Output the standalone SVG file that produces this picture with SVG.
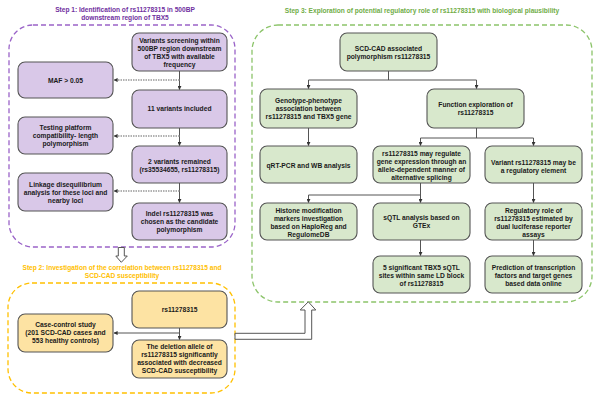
<svg xmlns="http://www.w3.org/2000/svg" width="600" height="401" viewBox="0 0 600 401">
<style>
text{font-family:"Liberation Sans",Arial,sans-serif;font-weight:bold;text-anchor:middle;dominant-baseline:central}
.t{font-size:6.7px;fill:#1a1a1a}
.h{font-size:6.6px}
.hp{fill:#7030a0}.ho{fill:#ffc000}.hg{fill:#70ad47}
.bp{fill:#d9c8e8;stroke:#555;stroke-width:1.1}
.bo{fill:#fde3a3;stroke:#555;stroke-width:1.1}
.bg{fill:#d8e8cc;stroke:#555;stroke-width:1.1}
.c{fill:none;stroke:#555;stroke-width:1}
.d{fill:none;stroke:#999;stroke-width:1.4;stroke-dasharray:1.5,1}
.hol{fill:#fff;stroke:#555;stroke-width:1}
</style>
<defs>
<marker id="ar" viewBox="0 0 10 10" refX="9" refY="5" markerWidth="4" markerHeight="4" orient="auto" markerUnits="userSpaceOnUse"><path d="M0,0L10,5L0,10z" fill="#333"/></marker>
</defs>
<rect width="600" height="401" fill="#fff"/>

<!-- titles -->
<text class="h hp" x="125" y="9.5">Step 1: Identification of rs11278315 in 500BP</text>
<text class="h hp" x="125" y="17.5">downstream region of TBX5</text>
<text class="h ho" x="122" y="267">Step 2: Investigation of the correlation between rs11278315 and</text>
<text class="h ho" x="122" y="275.5">SCD-CAD susceptibility</text>
<text class="h hg" x="422" y="10">Step 3: Exploration of potential regulatory role of rs11278315 with biological plausibility</text>

<!-- containers -->
<rect x="9" y="25" width="226" height="222" rx="24" fill="none" stroke="#9a63c8" stroke-width="1.3" stroke-dasharray="5,3"/>
<rect x="8" y="283" width="227" height="110" rx="24" fill="none" stroke="#ffc000" stroke-width="1.3" stroke-dasharray="5,3"/>
<rect x="252" y="25" width="340" height="277" rx="26" fill="none" stroke="#8cc46a" stroke-width="1.3" stroke-dasharray="5,3"/>

<g id="connectors">
<path class="c" d="M179.5,71V89.5" marker-end="url(#ar)"/>
<path class="c" d="M179.5,128V145.5" marker-end="url(#ar)"/>
<path class="c" d="M179.5,183V202.5" marker-end="url(#ar)"/>
<path class="d" d="M179.5,80H114" marker-end="url(#ar)"/>
<path class="d" d="M179.5,136H114" marker-end="url(#ar)"/>
<path class="d" d="M179.5,191H114" marker-end="url(#ar)"/>
<path class="c" d="M179.5,328V339.5" marker-end="url(#ar)"/>
<path class="c" d="M179.5,333H114" marker-end="url(#ar)"/>
<path class="c" d="M388.5,71V80M308.5,80H476.5"/>
<path class="c" d="M308.5,80V88.5" marker-end="url(#ar)"/>
<path class="c" d="M476.5,80V88.5" marker-end="url(#ar)"/>
<path class="c" d="M308.5,128V145.5" marker-end="url(#ar)"/>
<path class="c" d="M476.5,128V138M420.5,138H533.5"/>
<path class="c" d="M420.5,138V145.5" marker-end="url(#ar)"/>
<path class="c" d="M533.5,138V145.5" marker-end="url(#ar)"/>
<path class="c" d="M420.5,183V195M308.5,195H420.5"/>
<path class="c" d="M308.5,195V202.5" marker-end="url(#ar)"/>
<path class="c" d="M420.5,195V202.5" marker-end="url(#ar)"/>
<path class="c" d="M533.5,183V202.5" marker-end="url(#ar)"/>
<path class="c" d="M420.5,240V255.5" marker-end="url(#ar)"/>
<path class="c" d="M533.5,240V255.5" marker-end="url(#ar)"/>
<path class="hol" d="M118.3,247.5H124.3V256H127.3L121.3,262.3L115.8,256H118.3Z"/>
<path class="hol" d="M235,333.3H305V310H300.2L308.3,301.8L315.8,310H311.7V339.3H235Z"/>
</g>

<g id="n1"><rect class="bp" x="132" y="33" width="95" height="38" rx="7"/>
<text class="t" x="179.5" y="40">Variants screening within</text><text class="t" x="179.5" y="48">500BP region downstream</text><text class="t" x="179.5" y="56">of TBX5 with available</text><text class="t" x="179.5" y="64">frequency</text></g>
<g id="n2"><rect class="bp" x="18" y="62" width="95" height="36" rx="7"/>
<text class="t" x="65.5" y="80">MAF &gt; 0.05</text></g>
<g id="n3"><rect class="bp" x="132" y="90" width="95" height="38" rx="7"/>
<text class="t" x="179.5" y="108.5">11 variants included</text></g>
<g id="n4"><rect class="bp" x="18" y="117" width="95" height="37" rx="7"/>
<text class="t" x="65.5" y="127.5">Testing platform</text><text class="t" x="65.5" y="135.5">compatibility- length</text><text class="t" x="65.5" y="143.5">polymorphism</text></g>
<g id="n5"><rect class="bp" x="132" y="146" width="95" height="37" rx="7"/>
<text class="t" x="179.5" y="161.5">2 variants remained</text><text class="t" x="179.5" y="169.5">(rs35534655, rs11278315)</text></g>
<g id="n6"><rect class="bp" x="18" y="173" width="95" height="38" rx="7"/>
<text class="t" x="65.5" y="184">Linkage disequilibrium</text><text class="t" x="65.5" y="192">analysis for these loci and</text><text class="t" x="65.5" y="200">nearby loci</text></g>
<g id="n7"><rect class="bp" x="132" y="203" width="95" height="37" rx="7"/>
<text class="t" x="179.5" y="213.5">Indel rs11278315 was</text><text class="t" x="179.5" y="221.5">chosen as the candidate</text><text class="t" x="179.5" y="229.5">polymorphism</text></g>

<g id="n8"><rect class="bo" x="132" y="291" width="95" height="37" rx="7"/>
<text class="t" x="179.5" y="309.5">rs11278315</text></g>
<g id="n9"><rect class="bo" x="18" y="314" width="95" height="38" rx="7"/>
<text class="t" x="65.5" y="324.5">Case-control study</text><text class="t" x="65.5" y="332.5">(201 SCD-CAD cases and</text><text class="t" x="65.5" y="340.5">553 healthy controls)</text></g>
<g id="n10"><rect class="bo" x="132" y="340" width="95" height="38" rx="7"/>
<text class="t" x="179.5" y="346.5">The deletion allele of</text><text class="t" x="179.5" y="354.5">rs11278315 significantly</text><text class="t" x="179.5" y="362">associated with decreased</text><text class="t" x="179.5" y="370">SCD-CAD susceptibility</text></g>

<g id="n11"><rect class="bg" x="340" y="33" width="97" height="38" rx="7"/>
<text class="t" x="388.5" y="48">SCD-CAD associated</text><text class="t" x="388.5" y="56">polymorphism rs11278315</text></g>
<g id="n12"><rect class="bg" x="260" y="89" width="97" height="39" rx="7"/>
<text class="t" x="308.5" y="100.5">Genotype-phenotype</text><text class="t" x="308.5" y="108.5">association between</text><text class="t" x="308.5" y="116.5">rs11278315 and TBX5 gene</text></g>
<g id="n13"><rect class="bg" x="427" y="89" width="97" height="39" rx="7"/>
<text class="t" x="475.5" y="104.5">Function exploration of</text><text class="t" x="475.5" y="112.5">rs11278315</text></g>
<g id="n14"><rect class="bg" x="260" y="146" width="97" height="37" rx="7"/>
<text class="t" x="308.5" y="165">qRT-PCR and WB analysis</text></g>
<g id="n15"><rect class="bg" x="373" y="146" width="97" height="37" rx="7"/>
<text class="t" x="421.5" y="153">rs11278315 may regulate</text><text class="t" x="421.5" y="161">gene expression through an</text><text class="t" x="421.5" y="169">allele-dependent manner of</text><text class="t" x="421.5" y="177">alternative splicing</text></g>
<g id="n16"><rect class="bg" x="485" y="146" width="97" height="37" rx="7"/>
<text class="t" x="533.5" y="162">Variant rs11278315 may be</text><text class="t" x="533.5" y="170">a regulatory element</text></g>
<g id="n17"><rect class="bg" x="260" y="203" width="97" height="37" rx="7"/>
<text class="t" x="308.5" y="210">Histone modification</text><text class="t" x="308.5" y="218">markers investigation</text><text class="t" x="308.5" y="226">based on HaploReg and</text><text class="t" x="308.5" y="234">RegulomeDB</text></g>
<g id="n18"><rect class="bg" x="373" y="203" width="97" height="37" rx="7"/>
<text class="t" x="421.5" y="217.5">sQTL analysis based on</text><text class="t" x="421.5" y="225.5">GTEx</text></g>
<g id="n19"><rect class="bg" x="485" y="203" width="97" height="37" rx="7"/>
<text class="t" x="533.5" y="210">Regulatory role of</text><text class="t" x="533.5" y="218">rs11278315 estimated by</text><text class="t" x="533.5" y="226">dual luciferase reporter</text><text class="t" x="533.5" y="234">assays</text></g>
<g id="n20"><rect class="bg" x="373" y="256" width="97" height="37" rx="7"/>
<text class="t" x="421.5" y="267">5 significant TBX5 sQTL</text><text class="t" x="421.5" y="275">sites within same LD block</text><text class="t" x="421.5" y="283">of rs11278315</text></g>
<g id="n21"><rect class="bg" x="485" y="256" width="97" height="37" rx="7"/>
<text class="t" x="533.5" y="267">Prediction of transcription</text><text class="t" x="533.5" y="275">factors and target genes</text><text class="t" x="533.5" y="283">based data online</text></g>
</svg>
